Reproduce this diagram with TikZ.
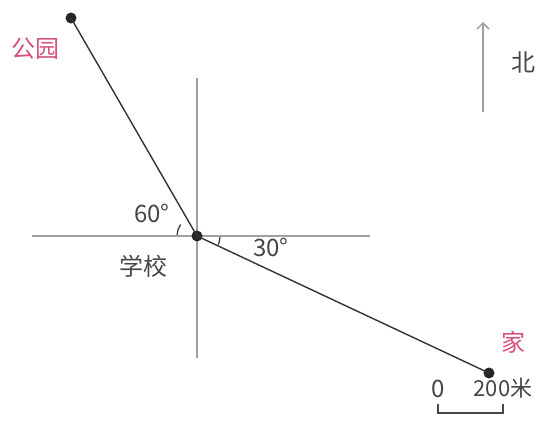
\documentclass[tikz,border=0pt]{standalone}
\usepackage{fontspec}
\setmainfont{Noto Sans CJK SC}
\usetikzlibrary{arrows.meta}
\definecolor{axisgray}{RGB}{160,160,160}
\definecolor{pinklab}{RGB}{214,82,122}
\definecolor{txtgray}{RGB}{70,70,70}
\tikzset{
  axisline/.style={draw=axisgray, line width=2.6pt},
  seg/.style={draw=black!80, line width=1.4pt},
  dot/.style={circle, fill=black!85, inner sep=0pt, minimum size=11pt},
  lab/.style={text=txtgray, font=\fontsize{24}{26}\selectfont, inner sep=0pt},
  plab/.style={text=pinklab, font=\fontsize{24}{26}\selectfont, inner sep=0pt},
  angmark/.style={draw=black!80, line width=1.2pt},
  scalebar/.style={draw=txtgray, line width=1.4pt}
}
\begin{document}
\begin{tikzpicture}[x=1pt,y=-1pt]
\useasboundingbox (0,0) rectangle (540,421);
% axes
\coordinate (wE) at (32,236);
\coordinate (eE) at (370,236);
\coordinate (nE) at (197,78);
\coordinate (sE) at (197,358);
\draw[axisline] (wE) -- (eE);
\draw[axisline] (nE) -- (sE);
% points
\node[dot] (O) at (197,236) {};
\node[dot] (P) at (71,18) {};
\node[dot] (H) at (489,373) {};
\draw[seg] (P.center) -- (O.center) -- (H.center);
% angle marks (y axis is flipped: negative angles point upward)
\draw[angmark] (197,236) ++(-177:20) arc[start angle=-177, end angle=-145, radius=20];
\draw[angmark] (197,236) ++(3:23) arc[start angle=3, end angle=22, radius=23];
% labels
\node[lab] (a60) at (152,213) {60°};
\node[lab] (a30) at (271,247) {30°};
\node[lab] (sch) at (143,266) {学校};
\node[plab] (park) at (36,49) {公园};
\node[plab] (home) at (513,342) {家};
% north arrow
\coordinate (nb) at (483,112);
\coordinate (nt) at (483,22);
\draw[axisline, -{Straight Barb[length=6pt,width=12pt,line width=1.5pt]}] (nb) -- (nt);
\node[lab] (north) at (523,62) {北};
% scale bar
\node[lab] (s0) at (438,389) {0};
\node[lab, font=\fontsize{22}{24}\selectfont] (s200) at (503,388) {200米};
\coordinate (sa) at (438,404);
\coordinate (sb) at (503,404);
\draw[scalebar] (sa) -- ++(0,9) -| (sb);
\end{tikzpicture}
\end{document}
